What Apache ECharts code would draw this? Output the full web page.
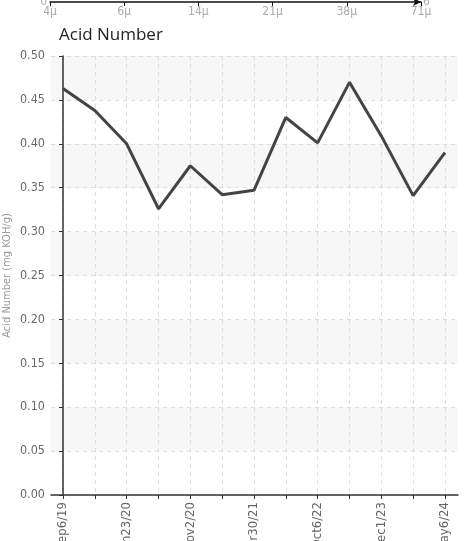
<!DOCTYPE html>
<html>
<head>
<meta charset="utf-8">
<script src="https://cdn.jsdelivr.net/npm/echarts@6/dist/echarts.min.js"></script>
<style>
html,body{margin:0;padding:0;background:#fff;}
#c{width:474px;height:541px;}
</style>
</head>
<body>
<div id="c"></div>
<script>
// Main chart data
const dates = ['Sep6/19','Nov10/19','Jan23/20','Apr14/20','Nov2/20','Jan15/21','Mar30/21','Nov2/21','Oct6/22','Mar2/23','Dec1/23','Feb14/24','May6/24'];
const acidValues = [0.463, 0.438, 0.400, 0.326, 0.375, 0.342, 0.347, 0.430, 0.401, 0.470, 0.409, 0.341, 0.390];
const yTicks = [0, 0.05, 0.10, 0.15, 0.20, 0.25, 0.30, 0.35, 0.40, 0.45, 0.50];
// Cut-off strip of a previous chart at the top
const sizeLabels = ['4\u03bc','6\u03bc','14\u03bc','21\u03bc','38\u03bc','71\u03bc'];

const idx = dates.map((d,i)=>i);
const labelIdx = idx.filter(i=>i%2===0);
const font = '"DejaVu Sans Condensed", "Liberation Sans Narrow", sans-serif';

const chart = echarts.init(document.getElementById('c'));
chart.setOption({
  animation: false,
  title: {
    text: 'Acid Number',
    left: 54, top: 22,
    textStyle: {fontFamily: '"Open Sans", "Noto Sans", sans-serif', fontSize: 17, fontWeight: 'normal', color: '#222'}
  },
  grid: [
    {left: 51, right: 16, top: 56, bottom: 46, containLabel: false, outerBoundsMode: 'none'},
    {left: 50, right: 53, top: -50, height: 52, containLabel: false, outerBoundsMode: 'none'}
  ],
  xAxis: [
    {
      gridIndex: 0, type: 'value', min: -0.377, max: 12.41,
      axisLine: {show: true, onZero: false, lineStyle: {color: '#333', width: 1.5}},
      axisTick: {show: true, customValues: idx, length: 4, lineStyle: {color: '#333'}},
      axisLabel: {customValues: labelIdx, rotate: 90, margin: 7, color: '#666', fontSize: 13, fontFamily: font,
        formatter: v => dates[Math.round(v)]},
      splitLine: {show: true, lineStyle: {color: '#ddd', type: [4,4]}}
    },
    {
      gridIndex: 1, type: 'category', data: sizeLabels, boundaryGap: false,
      axisLine: {show: true, lineStyle: {color: '#111', width: 1.5}, symbol: ['none','arrow'], symbolSize: [6,8]},
      axisTick: {show: true, length: 4, lineStyle: {color: '#111'}},
      axisLabel: {color: '#aaa', fontSize: 12, fontFamily: font, margin: 4},
      splitLine: {show: false}
    }
  ],
  yAxis: [
    {
      gridIndex: 0, type: 'value', min: 0, max: 0.5, interval: 0.05,
      name: 'Acid Number (mg KOH/g)', nameLocation: 'middle', nameGap: 38, nameMoveOverlap: false,
      nameTextStyle: {color: '#999', fontSize: 11, fontFamily: font},
      axisLine: {show: true, lineStyle: {color: '#333', width: 1.5}},
      axisTick: {show: true, length: 4, lineStyle: {color: '#333'}},
      axisLabel: {color: '#6a6a6a', fontSize: 12.5, fontFamily: font, margin: 6,
        formatter: v => { const t = yTicks.find(x => Math.abs(x - v) < 1e-6); return (t === undefined ? v : t).toFixed(2); }},
      splitLine: {show: true, lineStyle: {color: '#ddd', type: [4,4]}},
      splitArea: {show: true, areaStyle: {color: ['#ffffff', '#f7f7f7']}}
    },
    {
      gridIndex: 1, type: 'value', min: 0, max: 6, interval: 6,
      axisLine: {show: false}, axisTick: {show: false},
      axisLabel: {color: '#aaa', fontSize: 12, fontFamily: font, margin: 3},
      splitLine: {show: false}
    },
    {
      gridIndex: 1, type: 'value', position: 'right', min: 6, max: 12, interval: 6,
      axisLine: {show: false}, axisTick: {show: false},
      axisLabel: {color: '#aaa', fontSize: 12, fontFamily: font, margin: 2},
      splitLine: {show: false}
    }
  ],
  series: [
    {
      type: 'line', xAxisIndex: 0, yAxisIndex: 0,
      data: acidValues.map((v,i)=>[i, v]),
      showSymbol: false, symbol: 'none',
      lineStyle: {color: '#444', width: 3}
    }
  ]
});
</script>
</body>
</html>
